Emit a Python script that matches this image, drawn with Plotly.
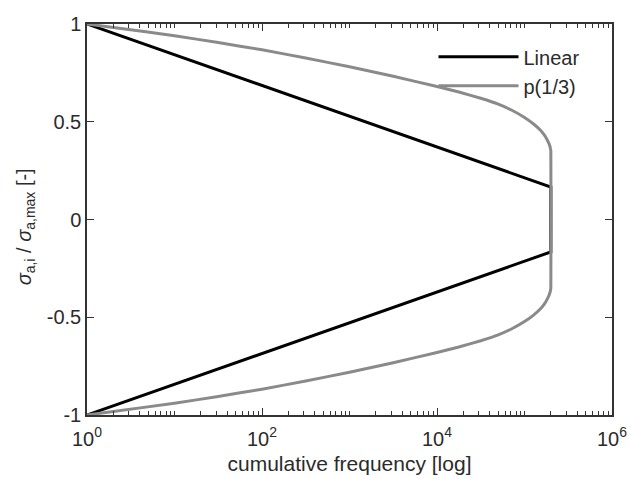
import plotly.graph_objects as go

# ---- data ----
linear_x = [1, 200000, 200000, 1]
linear_y = [1.0, 0.166, -0.166, -1.0]

p_upper_x = [1, 2, 10, 31.6, 100, 316, 1000, 3162, 10000, 17783, 31623, 50119, 70795, 100000,
             125893, 151356, 169824, 181970, 190546, 195884, 198609, 200000]
p_upper_y = [1.0, 0.982, 0.94, 0.905, 0.868, 0.826, 0.781, 0.733, 0.68, 0.652, 0.62, 0.59, 0.56, 0.522,
             0.49, 0.458, 0.43, 0.407, 0.388, 0.372, 0.36, 0.35]
p_lower_x = [200000, 198609, 195884, 190546, 181970, 169824, 151356, 125893, 100000, 70795, 50119,
             31623, 17783, 10000, 3162, 1000, 316, 100, 31.6, 10, 2, 1]
p_lower_y = [-0.35, -0.36, -0.372, -0.388, -0.407, -0.43, -0.458, -0.49, -0.522, -0.56, -0.59,
             -0.62, -0.652, -0.68, -0.733, -0.781, -0.826, -0.868, -0.905, -0.94, -0.982, -1.0]

x_tickvals = [1, 100, 10000, 1000000]
x_ticktext = ["10<sup>0</sup>", "10<sup>2</sup>", "10<sup>4</sup>", "10<sup>6</sup>"]
y_tickvals = [-1, -0.5, 0, 0.5, 1]
y_ticktext = ["-1", "-0.5", "0", "0.5", "1"]

minor_vals = [m * 10 ** k for k in range(6) for m in range(1, 10) if m * 10 ** k not in x_tickvals]

axis_color = "#333333"
text_color = "#2b2b2b"

fig = go.Figure()
fig.add_trace(go.Scatter(x=linear_x, y=linear_y, mode="lines", name="Linear",
                         line=dict(color="#000000", width=3)))
fig.add_trace(go.Scatter(x=p_upper_x + p_lower_x, y=p_upper_y + p_lower_y, mode="lines",
                         name="p(1/3)", line=dict(color="#8a8a8a", width=3, shape="spline", smoothing=0.3)))

fig.update_layout(
    width=630, height=478,
    margin=dict(l=87, r=18, t=24, b=63, autoexpand=False),
    paper_bgcolor="white", plot_bgcolor="white",
    font=dict(family="Liberation Sans, Arial, sans-serif", size=20, color=text_color),
    showlegend=True,
    legend=dict(x=0.66, y=0.966, xanchor="left", yanchor="top",
                bgcolor="rgba(0,0,0,0)", font=dict(size=20), itemwidth=80,
                tracegroupgap=0),
    annotations=[dict(
        text="<i>σ</i><sub>a,i</sub> / <i>σ</i><sub>a,max</sub> [-]",
        xref="paper", yref="paper", x=-0.118, y=0.48, xanchor="center", yanchor="middle",
        textangle=-90, showarrow=False, font=dict(size=20, color=text_color))],
)
fig.update_xaxes(
    type="log", range=[0, 6], automargin=False,
    tickmode="array", tickvals=x_tickvals, ticktext=x_ticktext,
    ticks="inside", ticklen=7, tickwidth=1.2, tickcolor=axis_color,
    showline=True, linecolor=axis_color, linewidth=1.5, mirror="ticks",
    showgrid=False, zeroline=False, ticklabelstandoff=5,
    minor=dict(tickmode="array", tickvals=minor_vals, ticks="inside", ticklen=4,
               tickwidth=1, tickcolor=axis_color, showgrid=False),
    title=dict(text="cumulative frequency [log]", standoff=8, font=dict(size=21)),
)
fig.update_yaxes(
    range=[-1, 1], automargin=False,
    tickmode="array", tickvals=y_tickvals, ticktext=y_ticktext,
    ticks="inside", ticklen=7, tickwidth=1.2, tickcolor=axis_color,
    showline=True, linecolor=axis_color, linewidth=1.5, mirror="ticks",
    showgrid=False, zeroline=False,
)

fig.write_html("out.html")
